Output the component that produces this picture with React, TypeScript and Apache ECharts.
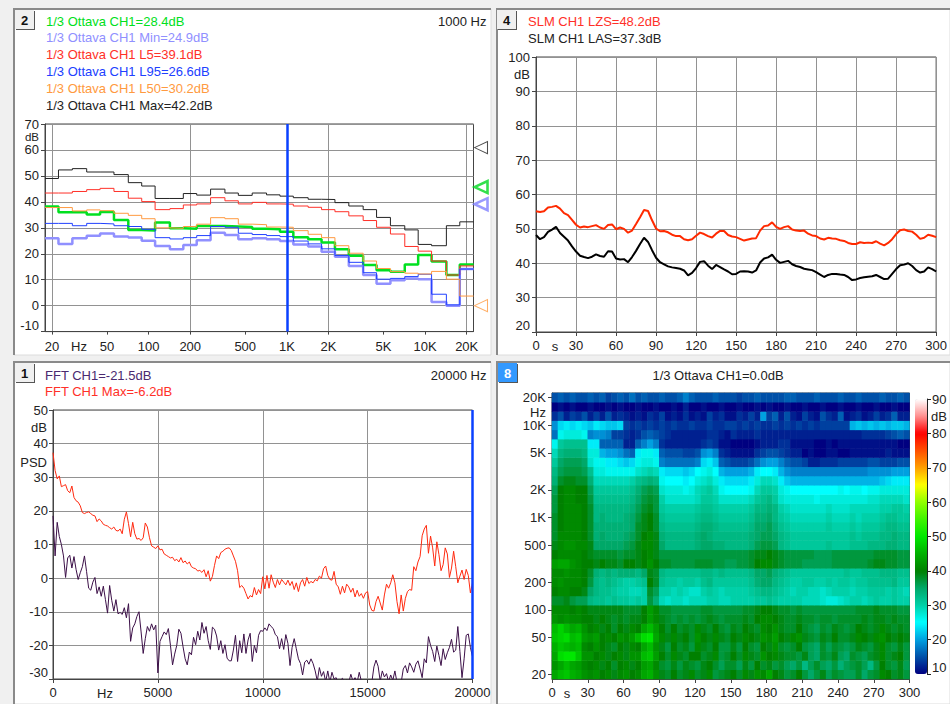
import React, { useEffect, useRef } from "react";
import * as echarts from "echarts";

const FONT = '"Liberation Sans", Arial, sans-serif';

// ---------- Panel 2: 1/3 octave ----------
const bandCenters = [20,25,31.5,40,50,63,80,100,125,160,200,250,315,400,500,630,800,1000,1250,1600,2000,2500,3150,4000,5000,6300,8000,10000,12500,16000,20000];
const octCh1 = [38.2,36,36,35.1,36.1,33,29.2,29,32,29.8,29.6,30.7,30.7,30.5,30.3,29.6,29.4,28.5,26.4,25.6,24.3,21.7,19.2,15.7,13.6,13.1,15.9,19.5,17,11.8,15.9];
const octMin = [26,23.8,26,26.9,27.8,26.6,26.3,25,23,21.7,23.4,25.2,28.1,27.2,25.6,26,25.6,24.9,23.6,22.8,20.8,18.8,15.3,11.8,8.4,9.8,10.5,10.2,1.4,0,14.1];
const octL5 = [43.4,43.4,44,44.7,45.2,44,41.4,40.1,37,37.4,38.8,39.2,41.6,40.4,39.2,39.8,39.2,39.1,38.4,37.9,37,36.2,34.6,32.8,30.2,27.6,22.8,21,17.2,11.8,15.3];
const octL95 = [31.7,31.7,30.8,31.7,31.5,30.8,30.5,29.4,26.2,25.7,26.2,27,30.5,30.2,27.9,27.4,27,26.6,24.9,23.8,21.9,19.3,16.7,12.7,10.2,10.5,11.2,12.1,4.4,0.3,14.1];
const octL50 = [37.8,37.8,36.5,36.9,36.6,35.6,34.8,33.5,30,29.8,30.5,31.4,33.9,33.5,31.4,31.2,30.3,30.2,28.9,27.5,26.2,23.1,20.2,17.2,14.3,13.1,12.5,12.2,13.2,10.2,3.7];
const octMax = [49,52.3,52.8,51.5,51.5,50.5,47.4,46.1,41.3,41.3,43.2,42.6,44.9,43.4,42.5,43.4,42.7,42.2,41.6,41,40.9,39.7,38.4,37,34,30.8,29.2,23.6,23.1,30.8,32.3];
const octMarkers = [60.9,45.7,39.1,0];
const octMarkerColors = ["#222222","#00d820","#8080ff","#ff9a40"];
const octMarkerWidths = [1,2.5,2.5,1];
const freqTicks = [20,50,100,200,500,1000,2000,5000,10000,20000];
const freqTickLabels = ["20","50","100","200","500","1K","2K","5K","10K","20K"];
const freqGrid = [20,200,2000,20000];
const octLegend = ["1/3 Ottava CH1=28.4dB","1/3 Ottava CH1 Min=24.9dB","1/3 Ottava CH1 L5=39.1dB","1/3 Ottava CH1 L95=26.6dB","1/3 Ottava CH1 L50=30.2dB","1/3 Ottava CH1 Max=42.2dB"];
const octColors = ["#00e020","#9090ff","#ff3028","#2040ff","#ff9a40","#222222"];
const octWidths = [2.5,2.5,1,1,1,1];

// ---------- Panel 4: SLM history, one value every 3 s ----------
const slmLZS = [55.1,54.9,55.1,56.2,56.4,56.7,55.9,54.6,54,52.6,
51.2,50.4,50.7,50.5,50.8,51.1,50.4,50,51.1,51.3,
49.9,50.4,50,48.9,49.5,51.4,53.4,55.5,55.2,52.5,
50.1,49.3,49.4,49,48.3,47.9,47.9,47,46.7,47,
48,48.9,48.5,47.9,47.5,48.6,49.4,49.4,48.2,47.8,
47.6,47.1,46.6,46.9,47.2,47.3,49.5,50.8,51,51.9,
50.6,50,50.5,50.8,49.8,49.5,49.4,49.5,48.6,48.1,
47.9,47.2,46.9,47.4,47.2,47.1,46.7,46.5,45.9,45.6,
45.6,46.1,45.9,46,45.9,46.4,45.7,45.2,45.9,47,
48.5,49.6,49.8,49.4,49.2,48.3,47.1,47.4,48.3,48,47.6];
const slmLAS = [48.2,47,47.6,49.1,49.8,50.6,48.8,47.7,46.6,44.9,
43.4,42.2,41.8,41.5,41.9,42.6,42.1,41.9,43.5,43.4,
41.4,41.1,41.2,40.3,41.8,43.6,45.6,47.4,46.2,43.8,
41.6,40.3,39.7,39.1,38.8,38.6,38.4,37.9,36.5,37.2,
38.6,40.4,40.6,39.3,38.3,39.5,38.9,38.2,37.6,36.8,
36.9,37.6,37.7,37.6,37.3,37.9,40.2,41.4,41.7,42.5,
41,40.1,40.4,40.7,39.7,39.2,38.9,38.4,38.2,38,
37.4,36.7,36,36.6,36.9,36.9,36.7,36.6,36,35.1,
35.3,35.7,35.9,36.1,36.2,36.6,36,35.4,35.5,36.9,
38.3,39.4,39.6,40,39.2,38,37.3,37.6,38.8,38.3,37.6];
const slmLegend = ["SLM CH1 LZS=48.2dB","SLM CH1 LAS=37.3dB"];

// ---------- Panel 1: FFT, one value every 100 Hz ----------
const fftMax = [37.3,32,29.5,30.4,27.2,27.5,27.8,26,25.4,27.4,
24,23,22.6,21.5,19.5,19.2,19.5,19.7,19.2,18.7,
18.5,16.8,17.6,17,16,15.7,15.5,15,14.6,15.2,
14.2,14,14.6,13.2,17.5,19.7,16.2,12.3,16.6,13.2,
11.6,11.8,11.2,12,16.4,15.2,12,9.6,9.2,8.8,
9.6,8.4,8.6,7.2,6.8,6.4,6,6.2,5.2,5.6,
4.8,6.1,4.6,5.1,4.2,4.8,3.4,3,2.8,2.1,
2.3,1.7,2.5,0.4,2.2,-0.9,0.5,3.8,6.6,5.8,
7.6,8,8.6,8.9,9,8.2,6.6,5,2.2,-2.8,
-2.2,-3,-4.6,-6.2,-5.2,-5.6,-2.8,-5,-3.4,-4.6,
0.4,-3.2,0.8,-3,1,-1.2,-2.8,-0.4,-2,-0.4,
-1.2,-2,-0.6,-2.2,-1,-3.4,-1.4,-4,-1.4,-0.4,
-2.4,0.2,-1.6,-1,-1.4,-0.4,-0.8,0.6,0,2.8,
3.6,0.8,-0.4,-0.6,2,-1.8,-2.6,-4.8,-2.4,-4.4,
-1.8,-2.6,-4.2,-3,-5.6,-3.6,-5.4,-4.6,-6,-4.4,
-4,-8,-9.6,-9.8,-7,-5.4,-7.4,-9.5,-5,-1.8,
-3,-1.4,1,-1.4,-7,-10.6,-5,-9.8,-6,-4,
-3.4,-3.6,3.4,2.2,4.8,6.4,12.6,14.6,15.7,7.4,
12.5,9,3.6,10.8,7,2.2,4,9,7.2,0.2,
3,8,3.4,-1.4,0.6,2.4,-0.4,2.6,0.8,-4.4,-1.4];
const fftCh1 = [18.5,6.6,16.6,12.4,10,6.6,0.2,6,6.8,3,
6.4,2.6,-0.4,1.6,3.4,6.6,2,-3,-3.6,-1.2,
0.2,-4.6,-2.6,-5.4,-2.4,-6.4,-10.4,-2.2,-6.6,-9.8,
-6.4,-10.6,-10.2,-10.8,-8.8,-11.8,-7.6,-18.8,-14.8,-13.6,
-11.4,-10,-16,-22.4,-18,-14.4,-15.8,-13.6,-15.4,-14,
-28.2,-18.8,-17.4,-16,-16.8,-15,-20,-25.8,-22.6,-20,
-15.2,-16.4,-20.4,-24,-25.8,-22,-22.8,-17.6,-19.8,-15.8,
-18.4,-13.2,-16.4,-14.4,-18.6,-21.2,-14.6,-15.2,-17.2,-21.4,
-18.6,-22.4,-19.8,-23.8,-24.6,-24.6,-21.4,-17,-24.8,-18.6,
-22.2,-16.6,-22.4,-18.4,-16.4,-24.8,-20,-22.2,-17,-15.6,
-15.8,-14.8,-15.6,-13.6,-14.4,-15,-16.8,-17.4,-21,-18,
-21.2,-16.8,-19.4,-26,-20.6,-18,-21,-24,-25.4,-28.8,
-25,-24.4,-25.6,-24,-25.4,-27.6,-30.6,-26.6,-29.2,-27.8,
-30.8,-27.6,-31,-28,-30,-29.6,-31.4,-30.4,-29.8,-31,
-30.2,-31,-28.6,-30.6,-29.6,-31,-28,-30.6,-31.2,-31,
-31,-30.4,-31,-26.4,-24.4,-26.2,-30.6,-27.6,-29.4,-28.4,
-30.8,-28.8,-30.4,-27.6,-31,-31,-31,-27,-26,-28.2,
-25.2,-26.4,-28,-25.6,-24.6,-27,-29.6,-24,-25.2,-17.4,
-20,-21.8,-24.8,-20.2,-23,-26,-21,-24.2,-22.2,-20.6,
-18.2,-22,-21.4,-14.4,-21.8,-29.6,-24,-17,-16.6,-20.6,-23.4];
const fftLegend = ["FFT CH1=-21.5dB","FFT CH1 Max=-6.2dB"];

// ---------- Panel 8: spectrogram, rows by 1/3 octave band, one column every 5 s ----------
const heatBandNames = ["20","25","31.5","40","50","63","80","100","125","160","200","250","315","400","500","630","800","1K","1.25K","1.6K","2K","2.5K","3.15K","4K","5K","6.3K","8K","10K","12.5K","16K","20K"];
const heatBandShown = ["20","50","100","200","500","1K","2K","5K","10K","20K"];
const heatTimes = Array.from({ length: 60 }, (_, i) => String(i * 5));
const heat20 = [44,46,47,45,44,42,41,42,40,41,39,41,42,40,41,44,45,42,39,38,40,38,39,41,38,39,41,37,38,39,40,38,41,39,42,41,44,40,39,37,38,40,37,35,37,39,36,38,37,36,36,38,35,37,38,41,40,38,39,37];
const heat25 = [42,44,46,44,43,41,40,41,39,40,38,40,41,39,40,43,44,41,38,37,39,37,39,38,37,39,40,38,36,38,38,36,39,37,40,38,39,37,38,36,35,37,33,36,38,36,35,37,34,36,37,38,36,33,37,40,38,37,39,36];
const heat31 = [44,49,50,50,47,42,42,40,41,39,40,41,39,42,42,46,47,43,40,38,41,39,38,40,40,38,39,41,37,38,40,38,41,39,38,42,40,41,39,38,38,37,39,36,35,38,37,39,36,35,38,37,36,38,39,41,38,39,40,37];
const heat40 = [45,47,46,45,46,41,40,42,40,39,38,40,39,41,40,44,46,42,39,37,40,38,39,37,41,39,38,40,37,37,39,37,40,38,37,40,39,42,38,37,38,40,37,36,35,38,36,38,37,36,37,39,38,37,39,41,38,37,39,37];
const heat50 = [47,48,49,46,47,43,42,43,40,41,40,42,41,43,46,49,50,44,41,39,41,39,40,38,42,40,39,41,39,38,40,39,41,40,39,42,41,43,40,39,41,42,39,38,37,39,38,40,38,38,39,41,40,39,41,42,40,39,40,39];
const heat63 = [46,48,46,44,45,42,40,41,39,40,38,40,39,41,40,44,46,43,40,38,40,38,39,38,41,39,38,40,38,37,39,38,40,39,38,41,40,42,39,38,38,40,38,37,36,38,37,39,38,37,38,40,39,38,39,41,39,38,39,38];
const heat80 = [42,41,42,41,41,40,40,39,40,39,38,39,38,39,39,40,43,41,39,38,37,38,37,38,37,38,39,38,37,38,38,38,39,38,40,41,41,40,39,38,38,39,38,38,37,38,38,37,38,38,38,38,39,38,39,39,38,39,38,38];
const heat100 = [41,41,41,40,41,40,39,39,39,39,39,39,38,38,38,40,43,41,38,38,37,37,37,37,37,38,38,37,37,37,37,37,38,38,39,40,40,39,38,38,37,38,37,37,37,37,37,37,37,37,37,38,38,38,39,38,38,38,37,37];
const heat125 = [38,38,39,37,36,36,33,32,32,31,32,31,31,30,31,30,37,34,29,28,29,29,28,29,29,29,30,30,29,29,30,30,30,30,31,31,32,31,30,30,30,30,29,29,29,28,27,27,28,29,30,30,29,30,31,30,30,31,30,30];
const heat160 = [40,41,41,40,40,39,35,33,32,32,31,30,30,29,29,30,38,36,30,30,29,30,29,28,28,30,31,30,29,30,30,30,30,31,32,33,33,32,31,30,29,30,30,29,29,28,29,30,30,30,29,30,30,31,31,31,30,31,30,29];
const heat200 = [41,42,41,41,41,40,37,33,32,33,32,31,30,30,31,32,40,38,32,31,31,30,31,31,30,32,33,31,31,31,31,31,31,32,34,35,35,33,32,31,30,30,31,31,30,30,31,30,31,31,30,31,31,32,32,32,32,33,31,31];
const heat250 = [41,41,42,41,41,40,38,34,33,34,33,34,34,34,33,35,39,38,33,32,32,32,32,32,32,33,33,32,33,32,32,32,32,33,35,35,36,34,33,32,31,31,31,31,31,31,31,31,31,32,31,31,32,32,32,33,33,33,32,32];
const heat315 = [43,44,44,42,41,40,40,39,40,39,39,38,40,40,39,40,42,40,38,38,37,37,37,37,38,38,38,37,37,36,36,37,37,38,40,41,41,39,38,37,37,37,36,36,36,36,36,37,37,37,37,37,37,38,39,39,38,38,37,37];
const heat400 = [40,41,41,41,41,40,39,38,38,38,38,37,38,38,39,40,41,39,37,37,37,37,37,37,37,37,37,37,37,37,37,37,37,38,39,39,40,39,38,37,37,37,37,37,36,36,36,37,37,37,37,37,37,37,38,38,38,38,37,37];
const heat500 = [39,41,42,42,41,41,39,35,35,35,35,35,36,37,39,41,41,39,35,33,33,33,33,33,34,35,35,34,34,33,33,33,33,34,36,37,37,36,33,32,31,31,31,31,31,31,32,31,31,31,32,32,32,33,33,33,34,34,33,33];
const heat630 = [38,41,41,41,41,40,38,34,35,34,34,34,35,36,38,40,41,39,34,33,33,33,33,33,34,35,34,33,33,33,33,33,33,34,35,36,36,35,33,32,31,31,31,31,31,31,31,31,31,31,32,31,32,32,32,33,33,34,33,33];
const heat800 = [38,40,41,41,41,40,38,34,34,34,34,34,34,35,38,39,40,38,33,32,32,32,32,32,33,34,34,33,32,32,32,32,32,33,35,35,36,34,32,31,30,30,30,30,30,30,31,30,30,30,31,30,31,31,31,32,33,33,32,32];
const heat1k = [38,40,41,41,41,40,38,33,34,33,33,33,34,35,37,39,40,38,32,31,31,31,31,31,32,33,33,32,31,31,31,31,31,32,34,34,35,33,31,30,29,29,29,29,29,29,30,29,29,29,30,29,30,30,30,31,32,32,31,31];
const heat1k25 = [37,40,41,41,41,40,38,33,33,33,33,33,33,34,36,38,39,37,31,30,30,30,30,30,31,32,32,31,30,30,30,30,30,31,33,33,34,33,30,29,28,28,28,28,28,28,29,28,28,28,29,29,29,29,29,30,30,31,31,30];
const heat1k6 = [37,40,41,41,40,40,37,32,32,32,32,32,32,33,35,37,38,37,30,28,28,28,28,28,29,31,31,30,28,28,28,28,28,29,31,32,33,31,28,27,27,27,27,27,26,27,27,27,27,27,27,27,27,28,28,29,29,29,29,28];
const heat2k = [36,40,41,41,40,40,36,31,31,31,31,31,31,32,34,36,37,36,28,27,27,27,26,27,29,30,31,29,26,25,25,25,25,26,29,31,31,30,27,26,25,25,25,25,25,25,25,25,26,25,26,26,25,26,26,27,27,27,27,27];
const heat2k5 = [34,38,39,39,38,38,34,29,29,29,29,29,29,30,32,33,34,33,26,25,25,25,24,25,27,28,29,27,24,23,23,23,23,24,27,29,29,28,24,22,21,21,21,21,21,21,21,21,21,21,21,21,21,21,21,22,23,24,24,24];
const heat3k15 = [33,36,37,37,37,36,32,27,27,26,26,26,26,26,28,29,30,29,24,23,23,23,22,23,25,26,27,25,21,20,20,20,20,21,24,25,25,24,21,19,18,18,18,18,18,18,18,18,18,18,18,18,18,19,19,19,19,20,20,20];
const heat4k = [31,35,36,36,36,35,28,26,26,24,24,23,22,23,26,27,27,26,18,17,17,17,17,17,18,23,24,22,16,15,14,14,14,15,17,19,20,20,18,16,15,15,14,12,12,13,13,13,14,14,14,14,14,15,15,14,14,14,15,15];
const heat5k = [29,33,34,34,34,33,27,27,21,20,20,19,17,16,24,26,26,24,16,15,15,15,14,14,15,19,20,18,13,12,11,11,11,11,13,14,15,15,14,13,12,12,10,11,10,10,11,11,10,10,11,11,11,11,11,11,12,11,11,11];
const heat6k3 = [26,31,32,32,32,32,24,24,16,16,16,16,12,12,16,18,20,18,13,12,12,12,12,12,12,13,14,13,11,11,10,10,10,10,11,12,12,12,13,13,11,11,11,11,10,10,11,10,11,11,11,11,11,11,11,11,11,11,10,10];
const heat8k = [17,26,27,27,27,26,18,19,19,18,14,14,13,12,13,15,16,15,14,13,12,12,12,12,12,12,13,13,12,11,13,12,12,12,13,12,12,12,12,12,12,12,12,12,12,12,12,12,12,12,12,12,13,13,13,13,14,15,16,15];
const heat10k = [19,23,24,23,24,23,22,24,23,22,22,23,14,13,14,13,14,13,14,13,14,13,13,14,13,13,14,13,13,14,14,13,14,13,14,13,13,14,13,14,13,14,13,14,13,14,14,14,14,14,21,22,21,22,21,22,21,22,22,21];
const heat12k5 = [13,15,12,14,13,15,12,14,12,15,12,13,12,11,12,11,13,12,14,11,12,11,13,11,12,11,14,12,13,11,11,13,12,14,12,20,14,16,12,15,12,11,14,12,11,15,13,12,16,11,12,13,11,12,14,12,13,16,12,12];
const heat16k = [10,11,10,11,10,10,11,10,10,11,10,11,10,10,11,10,10,11,10,10,11,10,12,10,10,11,10,10,11,10,10,11,10,10,11,10,11,10,10,11,10,10,11,10,10,11,10,10,11,10,10,11,10,10,11,10,10,11,10,10];
const heat20k = [15,16,15,16,15,15,16,15,16,14,15,16,15,17,15,16,15,15,16,15,15,16,18,16,15,15,15,16,15,15,15,14,15,15,16,15,15,15,15,16,16,15,15,15,16,15,15,15,16,15,15,16,15,15,15,16,15,15,16,15];
const heatRows = [heat20,heat25,heat31,heat40,heat50,heat63,heat80,heat100,heat125,heat160,heat200,heat250,heat315,heat400,heat500,heat630,heat800,heat1k,heat1k25,heat1k6,heat2k,heat2k5,heat3k15,heat4k,heat5k,heat6k3,heat8k,heat10k,heat12k5,heat16k,heat20k];
const heatColors = ["#000080","#0050a8","#00a0e0","#00ffff","#00d0a8","#00a868","#008000","#00b000","#00e800","#40f400","#90ff00","#ffff00","#ffa000","#ff5000","#ff0000","#ff9090","#ffffff"];

const TICK = "#222222";
const GRID = "#929292";
const AXIS = "#444444";
const axisLabelBase = { color: TICK, fontFamily: FONT, fontSize: 13 };

const log = (v: number) => Math.log10(v);

function valueAxis(gridIndex: number, min: number, max: number, interval: number, margin: number) {
  return {
    type: "value", gridIndex, min, max, interval, position: "left",
    axisLine: { show: true, onZero: false, lineStyle: { color: AXIS } },
    axisTick: { show: true, length: 4, lineStyle: { color: AXIS } },
    axisLabel: { ...axisLabelBase, margin, verticalAlignMinLabel: "bottom" },
    splitLine: { show: true, lineStyle: { color: GRID, width: 1 } },
  };
}

function timeAxis(gridIndex: number, withGrid: boolean) {
  return {
    type: "value", gridIndex, min: 0, max: 300, interval: 30, position: "bottom",
    axisLine: { show: true, onZero: false, lineStyle: { color: AXIS } },
    axisTick: { show: true, length: 4, lineStyle: { color: AXIS } },
    axisLabel: { ...axisLabelBase, margin: 7 },
    splitLine: { show: withGrid, lineStyle: { color: GRID, width: 1 } },
  };
}

function text(x: number, y: number, t: string, fill = TICK, align = "left", weight = "normal", size = 13) {
  return { type: "text", z: 20, x, y, silent: true, style: { text: t, fill, font: `${weight} ${size}px ${FONT}`, textAlign: align, textVerticalAlign: "middle" } };
}

function panel(x: number, y: number, w: number, h: number) {
  return [
    { type: "rect", z: -10, silent: true, shape: { x, y, width: w, height: h }, style: { fill: "#ffffff", stroke: "#dcdcdc", lineWidth: 1 } },
    { type: "polyline", z: -9, silent: true, shape: { points: [[x, y + h], [x, y], [x + w, y]] }, style: { fill: "none", stroke: "#8a8a8a", lineWidth: 2 } },
  ];
}

function badge(x: number, y: number, label: string, blue = false) {
  return [
    { type: "rect", z: 15, silent: true, shape: { x: x + 1, y: y + 1, width: 19, height: 19 }, style: { fill: "#555555" } },
    { type: "rect", z: 16, silent: true, shape: { x, y, width: 19, height: 19 }, style: { fill: blue ? "#3399ff" : "#f0f0f0" } },
    { ...text(x + 9.5, y + 10, label, blue ? "#ffffff" : "#111111", "center", "bold"), z: 17 },
  ];
}

function buildOption() {
  const octSeries = [octCh1, octMin, octL5, octL95, octL50, octMax].map((vals, k) => ({
    type: "line", xAxisIndex: 0, yAxisIndex: 0, step: "end", showSymbol: false, symbol: "none", silent: true,
    lineStyle: { color: octColors[k], width: octWidths[k] }, z: 3,
    data: [...vals.map((v, i) => [log(bandCenters[i]) - 0.05, v]), [log(20000) + 0.05, vals[vals.length - 1]]],
    ...(k === 5 ? { markLine: { silent: true, symbol: "none", label: { show: false }, animation: false, lineStyle: { color: "#0a40ff", width: 2.5, type: "solid" }, data: [{ xAxis: log(1000) }] } } : {}),
  }));

  return {
    animation: false,
    backgroundColor: "#f0f0f0",
    tooltip: { show: false },
    grid: [
      { left: 45, top: 124, width: 428.5, height: 207.6, show: true, borderColor: AXIS, borderWidth: 1 },
      { left: 536, top: 57, width: 404, height: 275, show: true, borderColor: AXIS, borderWidth: 1 },
      { left: 53, top: 410, width: 419.5, height: 269, show: true, borderColor: AXIS, borderWidth: 1 },
      { left: 552, top: 393, width: 357.5, height: 286, show: true, borderColor: AXIS, borderWidth: 1 },
      { left: 915, top: 399, width: 12, height: 275 },
    ],
    xAxis: [
      {
        type: "value", gridIndex: 0, min: log(17.8), max: log(22400), position: "bottom",
        axisLine: { show: true, onZero: false, lineStyle: { color: AXIS } },
        axisTick: { show: true, length: 3, lineStyle: { color: AXIS }, customValues: freqTicks.map(log) },
        axisLabel: {
          ...axisLabelBase, margin: 8, showMinLabel: true, showMaxLabel: true, customValues: freqTicks.map(log),
          formatter: (v: number) => freqTickLabels[freqTicks.findIndex((f) => Math.abs(log(f) - v) < 1e-6)] ?? "",
        },
        splitLine: { show: false },
      },
      {
        type: "value", gridIndex: 0, min: log(17.8), max: log(22400), position: "bottom",
        axisLine: { show: false }, axisLabel: { show: false },
        axisTick: { show: false, customValues: freqGrid.map(log) },
        splitLine: { show: true, lineStyle: { color: GRID, width: 1 } },
      },
      timeAxis(1, true),
      {
        type: "value", gridIndex: 2, min: 0, max: 20000, interval: 5000, position: "bottom",
        axisLine: { show: true, onZero: false, lineStyle: { color: AXIS } },
        axisTick: { show: true, length: 4, lineStyle: { color: AXIS } },
        axisLabel: { ...axisLabelBase, margin: 7, formatter: (v: number) => String(v) },
        splitLine: { show: true, lineStyle: { color: GRID, width: 1 } },
      },
      { type: "category", gridIndex: 3, data: heatTimes, show: false, position: "bottom" },
      timeAxis(3, false),
      { type: "value", gridIndex: 4, show: false, min: 0, max: 1 },
    ],
    yAxis: [
      valueAxis(0, -10, 70, 10, 6),
      valueAxis(1, 20, 100, 10, 6),
      valueAxis(2, -30, 50, 10, 5),
      {
        type: "category", gridIndex: 3, data: heatBandNames, position: "left",
        axisLine: { show: true, lineStyle: { color: AXIS } },
        axisTick: { show: true, length: 4, alignWithLabel: true, lineStyle: { color: AXIS }, interval: (_: number, n: string) => heatBandShown.includes(n) },
        axisLabel: { ...axisLabelBase, margin: 6, interval: (_: number, n: string) => heatBandShown.includes(n) },
        splitLine: { show: false },
      },
      {
        type: "value", gridIndex: 4, min: 10, max: 90, interval: 10, position: "right",
        axisLine: { show: true, onZero: false, lineStyle: { color: "#222222" } },
        axisTick: { show: true, length: 4, lineStyle: { color: "#222222" } },
        axisLabel: { ...axisLabelBase, margin: 5, verticalAlignMinLabel: "bottom" },
        splitLine: { show: false },
      },
    ],
    visualMap: {
      type: "continuous", seriesIndex: 11, dimension: 2, min: 10, max: 90,
      left: 915, top: 399, itemWidth: 12, itemHeight: 275, padding: 0,
      calculable: false, hoverLink: false, inRange: { color: heatColors },
      borderColor: "#555555", borderWidth: 0,
    },
    series: [
      ...octSeries,
      {
        type: "scatter", xAxisIndex: 0, yAxisIndex: 0, clip: false, silent: true, symbol: "triangle", symbolSize: [12, 13],
        symbolRotate: 90, symbolOffset: [7.5, 0], z: 4,
        data: octMarkers.map((v, i) => ({
          value: [log(22400), v],
          itemStyle: { color: "#ffffff", borderColor: octMarkerColors[i], borderWidth: octMarkerWidths[i] },
        })),
      },
      {
        type: "line", xAxisIndex: 2, yAxisIndex: 1, showSymbol: false, symbol: "none", silent: true,
        lineStyle: { color: "#ff2a00", width: 2 }, z: 3, data: slmLZS.map((v, i) => [i * 3, v]),
      },
      {
        type: "line", xAxisIndex: 2, yAxisIndex: 1, showSymbol: false, symbol: "none", silent: true,
        lineStyle: { color: "#000000", width: 2 }, z: 4, data: slmLAS.map((v, i) => [i * 3, v]),
      },
      {
        type: "line", xAxisIndex: 3, yAxisIndex: 2, showSymbol: false, symbol: "none", silent: true,
        lineStyle: { color: "#ff2a10", width: 1 }, z: 3, data: fftMax.map((v, i) => [i * 100, v]),
      },
      {
        type: "line", xAxisIndex: 3, yAxisIndex: 2, showSymbol: false, symbol: "none", silent: true,
        lineStyle: { color: "#3c1048", width: 1 }, z: 4, data: fftCh1.map((v, i) => [i * 100, v]),
        markLine: { silent: true, symbol: "none", label: { show: false }, animation: false, lineStyle: { color: "#0a40ff", width: 2.5, type: "solid" }, data: [{ xAxis: 20000 }] },
      },
      {
        type: "heatmap", xAxisIndex: 4, yAxisIndex: 3, silent: true, progressive: 0, z: 2,
        itemStyle: { borderWidth: 0 },
        data: heatRows.flatMap((row, r) => row.map((v, c) => [c, r, v])),
      },
    ],
    graphic: {
      elements: [
        ...panel(14, 9, 477, 346),
        ...panel(497, 9, 453, 346),
        ...panel(14, 362, 477, 342),
        ...panel(497, 362, 453, 342),
        ...badge(15, 10, "2"),
        ...badge(497, 10, "4"),
        ...badge(15, 363, "1"),
        ...badge(498, 363, "8", true),
        ...octLegend.map((t, i) => text(46, 21 + i * 16.8, t, octColors[i])),
        text(486.5, 21, "1000 Hz", "#222222", "right"),
        text(39, 137, "dB", TICK, "right", "normal", 11.5),
        text(79, 346, "Hz", TICK, "center"),
        text(528, 21, slmLegend[0], "#ff3028"),
        text(528, 38, slmLegend[1], "#222222"),
        text(530, 74, "dB", TICK, "right"),
        text(555, 346, "s", TICK, "center"),
        text(45, 375, fftLegend[0], "#4a2a70"),
        text(45, 391.5, fftLegend[1], "#ff3028"),
        text(486.5, 375, "20000 Hz", "#222222", "right"),
        text(47, 427, "dB", TICK, "right"),
        text(47, 462, "PSD", TICK, "right"),
        text(105, 693, "Hz", TICK, "center"),
        text(718, 375, "1/3 Ottava CH1=0.0dB", "#222222", "center"),
        text(546, 412, "Hz", TICK, "right"),
        text(567, 693, "s", TICK, "center"),
        text(947, 416, "dB", TICK, "right"),
      ],
    },
  };
}

export default function App() {
  const ref = useRef<HTMLDivElement>(null);
  useEffect(() => {
    document.body.style.margin = "0";
    document.body.style.background = "#f0f0f0";
    const chart = echarts.init(ref.current!, undefined, { renderer: "svg" });
    chart.setOption(buildOption() as any);
    return () => chart.dispose();
  }, []);
  return (
    <div style={{ position: "absolute", left: 0, top: 0, width: 950, height: 704, overflow: "hidden" }}>
      <div ref={ref} style={{ width: 950, height: 704 }} />
    </div>
  );
}
